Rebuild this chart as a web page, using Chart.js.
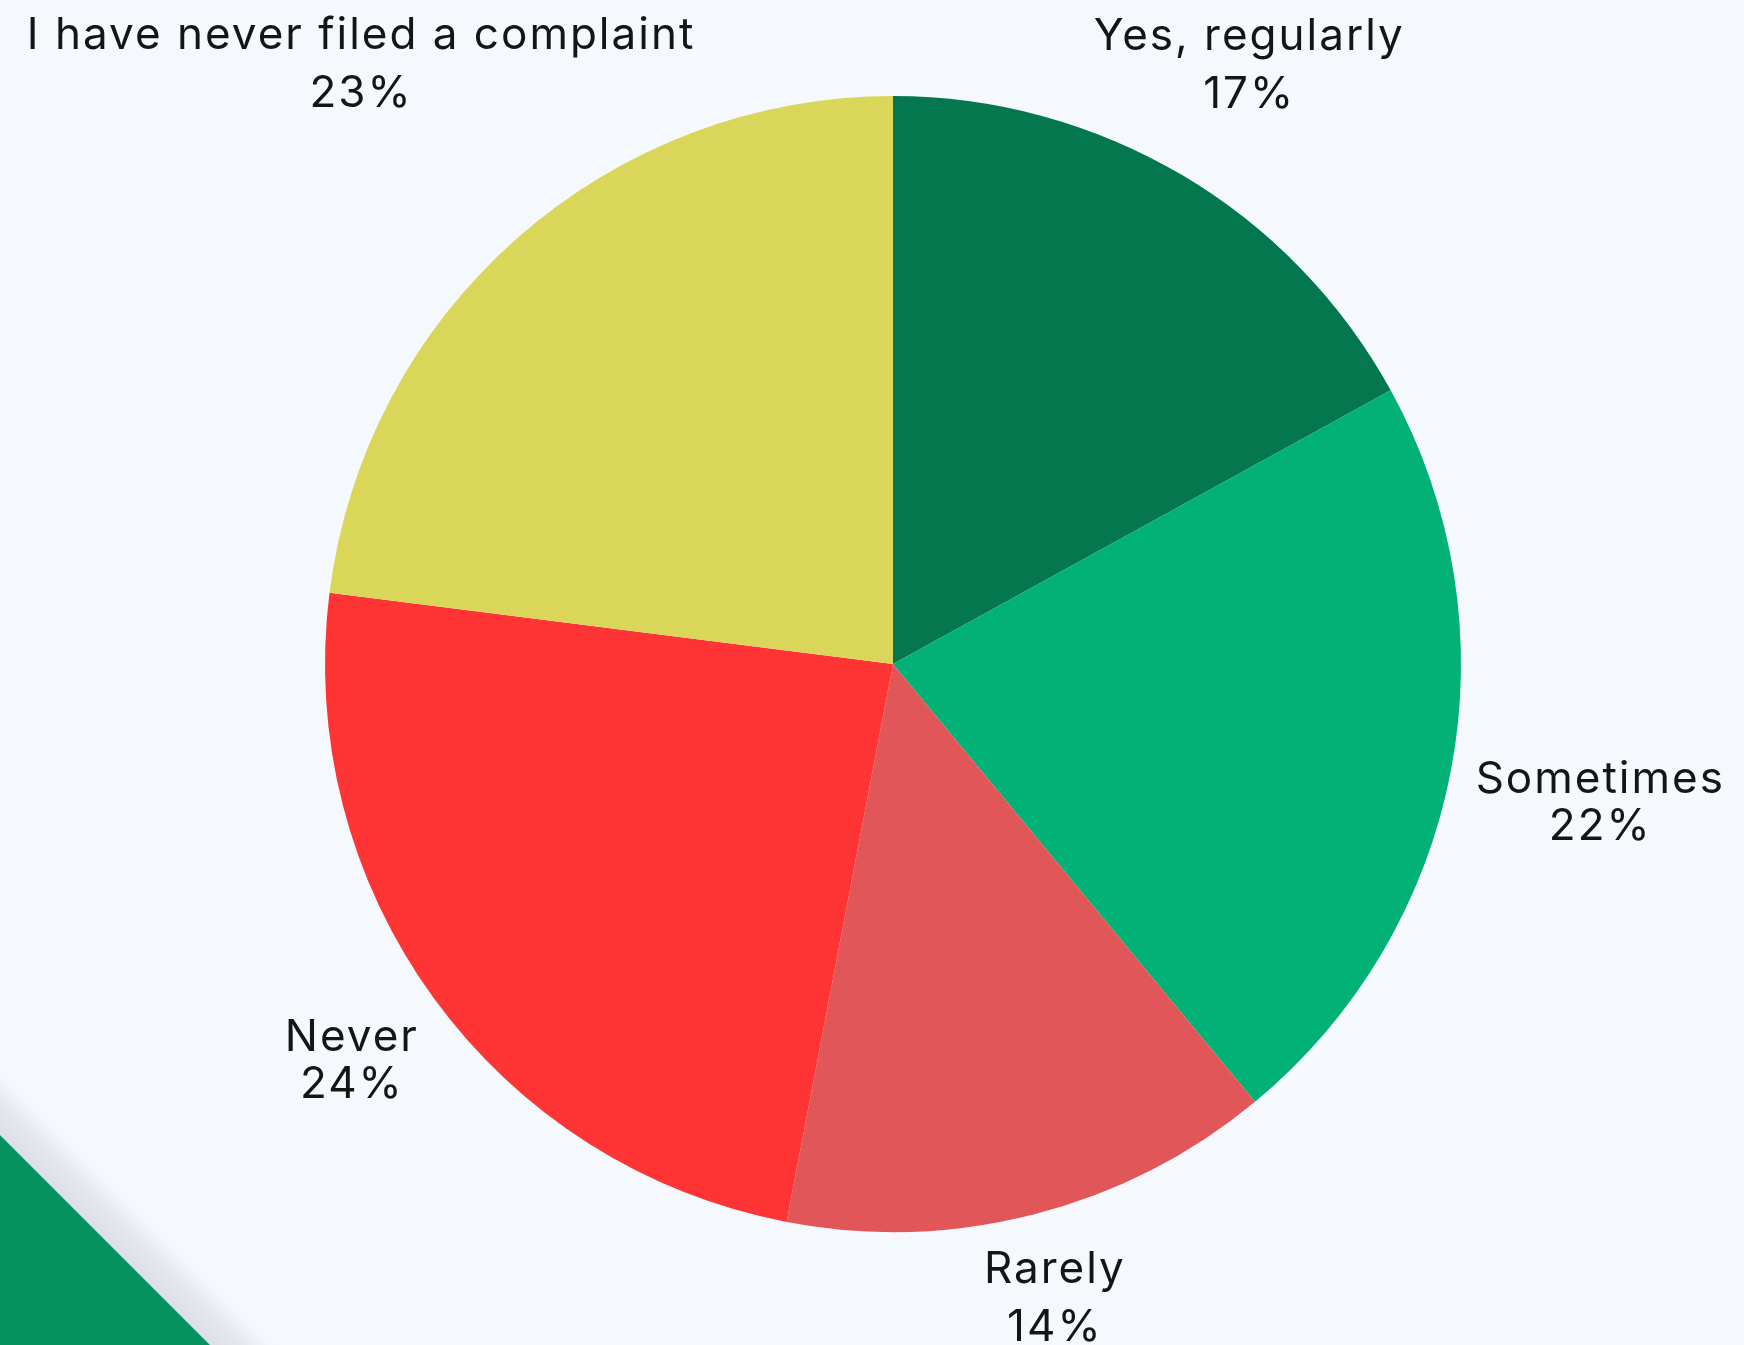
<!DOCTYPE html>
<html>
<head>
<meta charset="utf-8">
<script src="https://cdn.jsdelivr.net/npm/chart.js@4.4.0/dist/chart.umd.min.js"></script>
<style>
  html, body { margin: 0; padding: 0; background: #F5F9FD; }
  #chart { display: block; }
</style>
</head>
<body>
<canvas id="chart" width="1744" height="1345"></canvas>
<script>
const labels = ['Yes, regularly', 'Sometimes', 'Rarely', 'Never', 'I have never filed a complaint'];
const shares = [17, 22, 14, 24, 23];
const sliceColors = ['#05774F', '#02B176', '#E05659', '#FF3434', '#DAD65A'];

const LABEL_FONT = '44px Inter';
const CAP = 32;        // cap height of the label font
const RING_GAP = 22;   // space between pie edge and nearest label corner
const NUDGE_Y = 4;     // text sits a little low in its box

// page background plus the green corner ribbon
const backdrop = {
  id: 'backdrop',
  beforeDraw(chart) {
    const ctx = chart.ctx;
    const H = chart.height;
    ctx.save();
    ctx.fillStyle = '#F5F9FD';
    ctx.fillRect(0, 0, chart.width, H);

    // soft shadow band above the ribbon
    const g = ctx.createLinearGradient(0, H - 210, 38, H - 248);
    g.addColorStop(0, '#DCDFE5');
    g.addColorStop(0.45, '#E5E8ED');
    g.addColorStop(1, 'rgba(245,249,253,0)');
    ctx.fillStyle = g;
    ctx.beginPath();
    ctx.moveTo(0, H - 210);
    ctx.lineTo(0, H - 290);
    ctx.lineTo(290, H);
    ctx.lineTo(210, H);
    ctx.closePath();
    ctx.fill();

    ctx.fillStyle = '#079262';
    ctx.beginPath();
    ctx.moveTo(0, H - 210);
    ctx.lineTo(210, H);
    ctx.lineTo(0, H);
    ctx.closePath();
    ctx.fill();
    ctx.restore();
  }
};

// two-line labels placed outside each slice, along its middle angle
const outsideLabels = {
  id: 'outsideLabels',
  afterDatasetsDraw(chart) {
    const ctx = chart.ctx;
    const meta = chart.getDatasetMeta(0);
    ctx.save();
    ctx.font = LABEL_FONT;
    ctx.letterSpacing = '2px';
    ctx.fillStyle = '#151515';
    ctx.textAlign = 'center';
    ctx.textBaseline = 'alphabetic';
    meta.data.forEach((arc, i) => {
      const p = arc.getProps(['x', 'y', 'startAngle', 'endAngle', 'outerRadius'], true);
      const mid = (p.startAngle + p.endAngle) / 2;
      const dx = Math.cos(mid), dy = Math.sin(mid);
      const lines = [chart.data.labels[i], chart.data.datasets[0].data[i] + '%'];
      const lineGap = Math.abs(dx) > 0.75 ? 47 : 58;
      const w = Math.max(...lines.map(t => ctx.measureText(t).width));
      const h = CAP + lineGap + 5;

      let lo = p.outerRadius, hi = p.outerRadius + 1200, bx = 0, by = 0;
      for (let k = 0; k < 40; k++) {
        const d = (lo + hi) / 2;
        bx = p.x + dx * d;
        by = p.y + dy * d;
        const nx = Math.min(Math.max(p.x, bx - w / 2), bx + w / 2);
        const ny = Math.min(Math.max(p.y, by - h / 2), by + h / 2);
        if (Math.hypot(nx - p.x, ny - p.y) < p.outerRadius + RING_GAP) lo = d; else hi = d;
      }
      const top = by - h / 2 + NUDGE_Y;
      ctx.fillText(lines[0], bx, top + CAP);
      ctx.fillText(lines[1], bx, top + CAP + lineGap);
    });
    ctx.restore();
  }
};

new Chart(document.getElementById('chart'), {
  type: 'pie',
  data: {
    labels: labels,
    datasets: [{
      data: shares,
      backgroundColor: sliceColors,
      borderWidth: 0,
      hoverOffset: 0
    }]
  },
  options: {
    responsive: false,
    animation: false,
    events: [],
    layout: { padding: { top: 96, bottom: 113, left: 325, right: 283 } },
    plugins: {
      legend: { display: false },
      tooltip: { enabled: false }
    }
  },
  plugins: [backdrop, outsideLabels]
});
</script>
</body>
</html>
